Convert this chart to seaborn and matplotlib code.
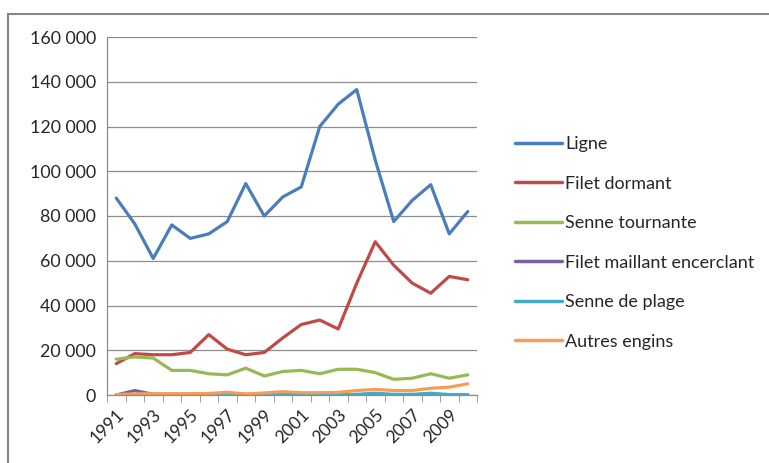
"""
Captures par type d'engin, 1991-2010 (reproduction du graphique Excel).
"""

import matplotlib
matplotlib.use('Agg')
import matplotlib.pyplot as plt
from matplotlib.patches import Rectangle
from matplotlib.ticker import FuncFormatter, MultipleLocator
import pandas as pd
import seaborn as sns

years = list(range(1991, 2011))

ligne = [88000, 76500, 61000, 76000, 70000, 72000, 77500, 94500, 80000, 88500,
         93000, 120000, 130000, 136500, 105000, 77500, 87000, 94000, 72000, 82000]
filet_dormant = [14000, 18500, 18000, 18000, 19000, 27000, 20500, 18000, 19000, 25500,
                 31500, 33500, 29500, 50000, 68500, 58000, 50000, 45500, 53000, 51500]
senne_tournante = [16000, 17000, 16500, 11000, 11000, 9500, 9000, 12000, 8500, 10500,
                   11000, 9500, 11500, 11500, 10000, 7000, 7500, 9500, 7500, 9000]
filet_maillant = [0, 2000, 300, 200, 100, 100, 100, 100, 100, 100,
                  100, 100, 100, 100, 300, 100, 100, 300, 100, 100]
senne_plage = [0, 0, 0, 0, 0, 0, 0, 0, 0, 0,
               0, 0, 0, 300, 800, 300, 300, 800, 200, 100]
autres_engins = [200, 500, 600, 600, 600, 700, 1200, 500, 900, 1500,
                 1000, 1000, 1200, 2000, 2500, 2000, 2000, 3000, 3500, 5000]

series = {
    "Ligne": ligne,
    "Filet dormant": filet_dormant,
    "Senne tournante": senne_tournante,
    "Filet maillant encerclant": filet_maillant,
    "Senne de plage": senne_plage,
    "Autres engins": autres_engins,
}
colors = ["#4A7EBB", "#BE4B48", "#98B954", "#7D60A0", "#46AAC5", "#F59D56"]

df = pd.concat(
    [pd.DataFrame({"annee": years, "capture": vals, "engin": name}) for name, vals in series.items()],
    ignore_index=True,
)

sns.set_style("white")
plt.rcParams['font.family'] = ['Lato', 'DejaVu Sans']

fig = plt.figure(figsize=(7.69, 4.63), dpi=100)
ax = fig.add_axes([107 / 769, 1 - 395 / 463, 370 / 769, 358 / 463])

# outer chart frame (Excel style)
fig.patches.append(Rectangle((8 / 769, -0.05), 1.1, 1 - 14 / 463 + 0.05, transform=fig.transFigure,
                             fill=False, edgecolor="#868686", linewidth=1.5, zorder=0))

sns.lineplot(data=df, x="annee", y="capture", hue="engin", palette=dict(zip(series, colors)),
             linewidth=2.3, ax=ax, legend=False)

ax.set_xlim(1990.5, 2010.5)
ax.set_ylim(0, 160000)
ax.yaxis.set_major_locator(MultipleLocator(20000))
ax.yaxis.set_major_formatter(FuncFormatter(lambda v, _: f"{int(v):,}".replace(",", " ")))
ax.grid(axis="y", color="#8c8c8c", linewidth=0.9)
ax.set_axisbelow(True)

ax.set_xticks(years[::2])
ax.set_xticklabels([str(y) for y in years[::2]], rotation=45, ha="right", rotation_mode="anchor")
ax.set_xticks([y + 0.5 for y in range(1990, 2011)], minor=True)
ax.tick_params(axis="x", which="major", length=0, pad=8, labelsize=12.5)
ax.tick_params(axis="x", which="minor", length=5, color="#8c8c8c", direction="out")
ax.tick_params(axis="y", length=5, color="#8c8c8c", direction="out", labelsize=12.8, pad=3)
ax.xaxis.set_tick_params(bottom=True, which="minor")

for side in ["top", "right"]:
    ax.spines[side].set_visible(False)
for side in ["left", "bottom"]:
    ax.spines[side].set_color("#8c8c8c")
    ax.spines[side].set_linewidth(0.9)

ax.set_xlabel("")
ax.set_ylabel("")

handles = [plt.Line2D([], [], color=c, linewidth=2.5) for c in colors]
fig.legend(handles, list(series), loc="center left", bbox_to_anchor=(499 / 769, 1 - 243 / 463),
           frameon=False, fontsize=13, handlelength=2.6, handletextpad=0.15, labelspacing=1.3)

plt.savefig("out.png", dpi=100)
plt.close()
